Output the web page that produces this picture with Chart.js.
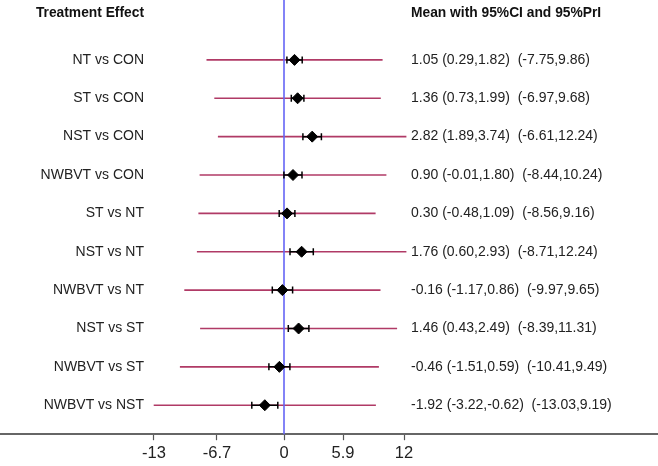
<!DOCTYPE html>
<html>
<head>
<meta charset="utf-8">
<script src="https://cdn.jsdelivr.net/npm/chart.js@4/dist/chart.umd.min.js"></script>
<style>
    html, body { margin: 0; padding: 0; background: #ffffff; }
    #wrap { width: 658px; height: 466px; position: relative; }
</style>
</head>
<body>
<div id="wrap"><canvas id="forestChart"></canvas></div>
<script>
// comparisons, top to bottom
const comparisons = ['NT vs CON', 'ST vs CON', 'NST vs CON', 'NWBVT vs CON', 'ST vs NT',
    'NST vs NT', 'NWBVT vs NT', 'NST vs ST', 'NWBVT vs ST', 'NWBVT vs NST'];
const means = [1.05, 1.36, 2.82, 0.90, 0.30, 1.76, -0.16, 1.46, -0.46, -1.92];
const ciLow = [0.29, 0.73, 1.89, -0.01, -0.48, 0.60, -1.17, 0.43, -1.51, -3.22];
const ciHigh = [1.82, 1.99, 3.74, 1.80, 1.09, 2.93, 0.86, 2.49, 0.59, -0.62];
const piLow = [-7.75, -6.97, -6.61, -8.44, -8.56, -8.71, -9.97, -8.39, -10.41, -13.03];
const piHigh = [9.86, 9.68, 12.24, 10.24, 9.16, 12.24, 9.65, 11.31, 9.49, 9.19];
const tickValues = [-13, -6.7, 0, 5.9, 12];

const leftHeader = 'Treatment Effect';
const rightHeader = 'Mean with 95%CI and 95%PrI';

function fmt(v) {
    return v.toFixed(2);
}

document.addEventListener('DOMContentLoaded', function() {
    const ctx = document.getElementById('forestChart').getContext('2d');
    const rows = comparisons.map(function(_, i) { return i + 1; });

    const datasets = [];

    // prediction intervals
    rows.forEach(function(r, i) {
        datasets.push({
            type: 'line',
            data: [{ x: piLow[i], y: r }, { x: piHigh[i], y: r }],
            borderColor: '#b03a66',
            borderWidth: 1.6,
            pointRadius: 0,
            order: 5
        });
    });

    // line of no effect
    datasets.push({
        type: 'line',
        data: [{ x: 0, y: -0.6 }, { x: 0, y: 10.8 }],
        borderColor: '#6464f5',
        borderWidth: 1.6,
        pointRadius: 0,
        order: 4
    });

    // confidence intervals
    rows.forEach(function(r, i) {
        datasets.push({
            type: 'line',
            data: [{ x: ciLow[i], y: r }, { x: ciHigh[i], y: r }],
            borderColor: '#000000',
            borderWidth: 1.5,
            pointRadius: 0,
            order: 3
        });
    });

    // end caps of the confidence intervals
    const caps = [];
    rows.forEach(function(r, i) {
        caps.push({ x: ciLow[i], y: r });
        caps.push({ x: ciHigh[i], y: r });
    });
    datasets.push({
        type: 'scatter',
        data: caps,
        pointStyle: 'line',
        rotation: 90,
        pointRadius: 3.5,
        borderColor: '#000000',
        borderWidth: 1.5,
        order: 2
    });

    // point estimates
    datasets.push({
        type: 'scatter',
        data: rows.map(function(r, i) { return { x: means[i], y: r }; }),
        pointStyle: 'rectRot',
        pointRadius: 5.5,
        backgroundColor: '#000000',
        borderColor: '#000000',
        borderWidth: 1,
        order: 1
    });

    // text columns drawn at scale positions
    const textPlugin = {
        id: 'forestText',
        afterDraw: function(chart) {
            const c = chart.ctx;
            const x = chart.scales.x;
            const y = chart.scales.y;
            c.save();
            c.textBaseline = 'middle';

            c.fillStyle = '#111111';
            c.font = 'bold 13.8px "Liberation Sans", Arial, sans-serif';
            c.textAlign = 'right';
            c.fillText(leftHeader, x.getPixelForValue(-14), y.getPixelForValue(-0.22));
            c.textAlign = 'left';
            c.fillText(rightHeader, x.getPixelForValue(12.7), y.getPixelForValue(-0.22));

            c.fillStyle = '#222222';
            c.font = '14px "Liberation Sans", Arial, sans-serif';
            rows.forEach(function(r, i) {
                const py = y.getPixelForValue(r);
                c.textAlign = 'right';
                c.fillText(comparisons[i], x.getPixelForValue(-14), py);
                c.textAlign = 'left';
                const txt = fmt(means[i]) + ' (' + fmt(ciLow[i]) + ',' + fmt(ciHigh[i]) + ')  (' +
                    fmt(piLow[i]) + ',' + fmt(piHigh[i]) + ')';
                c.fillText(txt, x.getPixelForValue(12.7), py);
            });
            c.restore();
        }
    };

    new Chart(ctx, {
        type: 'scatter',
        data: { datasets: datasets },
        plugins: [textPlugin],
        options: {
            responsive: true,
            maintainAspectRatio: false,
            animation: false,
            layout: { padding: 0, autoPadding: false },
            plugins: {
                legend: { display: false },
                tooltip: { enabled: false }
            },
            scales: {
                x: {
                    type: 'linear',
                    min: -28.4,
                    max: 37.4,
                    afterBuildTicks: function(axis) {
                        axis.ticks = tickValues.map(function(v) { return { value: v }; });
                    },
                    ticks: {
                        autoSkip: false,
                        maxRotation: 0,
                        padding: 3,
                        color: '#222222',
                        font: { family: '"Liberation Sans", Arial, sans-serif', size: 16.5 },
                        callback: function(v) { return String(v); }
                    },
                    grid: {
                        drawOnChartArea: false,
                        drawTicks: true,
                        tickLength: 6,
                        tickWidth: 1.2,
                        tickColor: '#555555'
                    },
                    border: { display: true, color: '#666666', width: 2 }
                },
                y: {
                    type: 'linear',
                    display: false,
                    reverse: true,
                    min: -0.561,
                    max: 10.755
                }
            }
        }
    });
});
</script>
</body>
</html>
